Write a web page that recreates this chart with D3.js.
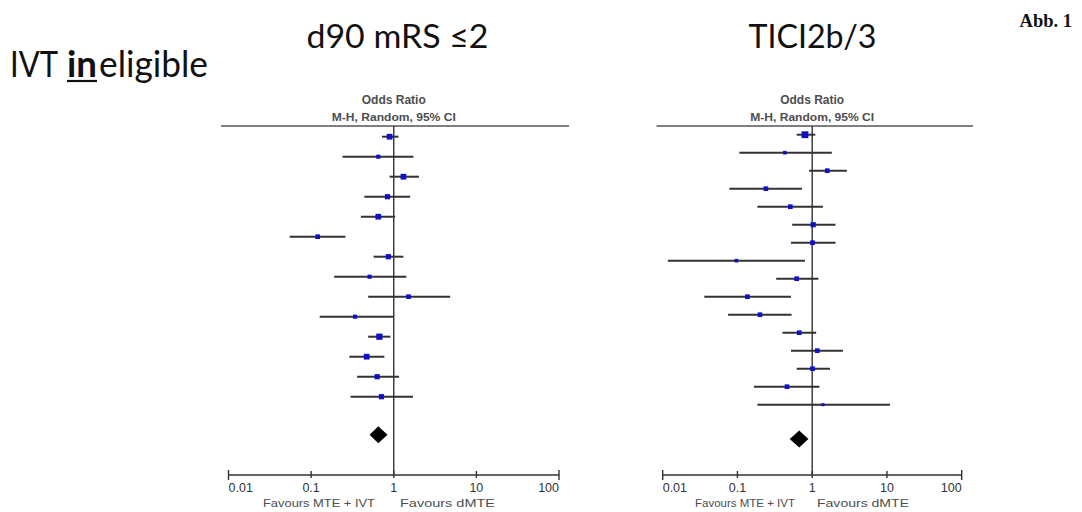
<!DOCTYPE html>
<html><head><meta charset="utf-8">
<script src="https://cdn.jsdelivr.net/npm/d3@7"></script>
<style>html,body{margin:0;padding:0;background:#fff;}svg{display:block;}</style>
</head><body>
<svg id="c" width="1082" height="512"></svg>
<script>
// ---- data ----
const tickValues = [0.01, 0.1, 1, 10, 100];
const tickLabels = ["0.01", "0.1", "1", "10", "100"];

// d90 mRS <=2
const mrsOR    = [0.89, 0.65, 1.31, 0.84, 0.65, 0.12, 0.86, 0.51, 1.51, 0.34, 0.67, 0.47, 0.63, 0.71];
const mrsLow   = [0.72, 0.24, 0.89, 0.44, 0.40, 0.055, 0.57, 0.19, 0.49, 0.127, 0.49, 0.29, 0.36, 0.30];
const mrsHigh  = [1.14, 1.73, 2.02, 1.58, 1.04, 0.26, 1.31, 1.42, 4.82, 0.98, 0.91, 0.77, 1.16, 1.71];
const mrsWeight= [5, 3.5, 5, 4.5, 5, 4, 4.5, 3.5, 4, 3.5, 5.5, 5, 4.5, 4.5];
const mrsPooled= [0.65, 0.51, 0.84];

// TICI 2b/3
const ticiOR    = [0.80, 0.43, 1.59, 0.24, 0.51, 1.03, 1.01, 0.097, 0.62, 0.136, 0.20, 0.67, 1.17, 1.01, 0.46, 1.39];
const ticiLow   = [0.62, 0.106, 0.91, 0.078, 0.185, 0.54, 0.52, 0.0117, 0.33, 0.036, 0.075, 0.40, 0.52, 0.62, 0.166, 0.185];
const ticiHigh  = [1.10, 1.83, 2.91, 0.73, 1.39, 2.05, 2.05, 0.80, 1.21, 0.52, 0.53, 1.13, 2.58, 1.73, 1.25, 11.0];
const ticiWeight= [6, 3, 4, 4, 4, 4.5, 4, 3, 4, 4, 4, 4, 4, 4, 4, 2.5];
const ticiPooled= [0.67, 0.50, 0.89];

const svg = d3.select("#c");

// row title, in three pieces so the bold "in" sits on its own
const titleParts = [
  { t: "IVT", x0: 10, x1: 58, bold: false },
  { t: "in", x0: 67, x1: 97, bold: true },
  { t: "eligible", x0: 99, x1: 208, bold: false }
];
svg.selectAll(".rt").data(titleParts).join("text")
  .attr("x", d => d.x0).attr("y", 76.5)
  .attr("font-family", "Lato, 'Open Sans', sans-serif").attr("font-size", 37)
  .attr("font-weight", d => d.bold ? "bold" : "normal")
  .attr("textLength", d => d.x1 - d.x0).attr("lengthAdjust", "spacingAndGlyphs")
  .attr("fill", "#111").text(d => d.t);
svg.append("line").attr("x1", 67).attr("x2", 97).attr("y1", 81).attr("y2", 81)
  .attr("stroke", "#111").attr("stroke-width", 2.2);

svg.append("text").attr("x", 1072).attr("y", 26.5).attr("text-anchor", "end")
  .attr("font-family", "'Liberation Serif', 'Times New Roman', serif")
  .attr("font-weight", "bold").attr("font-size", 18.5).attr("fill", "#111").text("Abb. 1");

function panel(cfg) {
  const x = d3.scaleLog().domain([0.01, 100]).range(cfg.xr);
  const n = cfg.or.length;
  const y = d3.scaleLinear().domain([0, n - 1]).range(cfg.yr);
  const g = svg.append("g");
  const sz = d3.scaleLinear().domain([3, 6]).range([3.6, 6.8]);

  g.append("text").attr("x", cfg.titleX).attr("y", 47.5).attr("text-anchor", "middle")
    .attr("font-family", "Lato, 'Open Sans', sans-serif").attr("font-size", 33)
    .attr("textLength", cfg.titleLen).attr("lengthAdjust", "spacingAndGlyphs")
    .attr("fill", "#111").text(cfg.title);

  const hdr = g.append("g").attr("font-family", "'Liberation Sans', Arial, sans-serif")
    .attr("font-weight", "bold").attr("fill", "#4d4d4d").attr("text-anchor", "middle");
  hdr.append("text").attr("x", x(1)).attr("y", cfg.hdrY).attr("font-size", 12).text("Odds Ratio");
  hdr.append("text").attr("x", x(1)).attr("y", cfg.hdrY + 17).attr("font-size", 11.5)
    .attr("textLength", cfg.subLen).attr("lengthAdjust", "spacingAndGlyphs").text("M-H, Random, 95% CI");

  g.append("line").attr("x1", cfg.hl[0]).attr("x2", cfg.hl[1]).attr("y1", 126).attr("y2", 126)
    .attr("stroke", "#555").attr("stroke-width", 1.6);

  // reference line at OR = 1
  g.append("line").attr("x1", x(1)).attr("x2", x(1)).attr("y1", 126).attr("y2", 475)
    .attr("stroke", "#333").attr("stroke-width", 1.4);

  // CIs
  g.selectAll(".ci").data(cfg.or).join("line")
    .attr("x1", (d, i) => x(cfg.lo[i])).attr("x2", (d, i) => x(cfg.hi[i]))
    .attr("y1", (d, i) => y(i)).attr("y2", (d, i) => y(i))
    .attr("stroke", "#333").attr("stroke-width", 2);

  g.selectAll(".pt").data(cfg.or).join("rect")
    .attr("x", (d, i) => x(d) - sz(cfg.w[i]) / 2).attr("y", (d, i) => y(i) - sz(cfg.w[i]) / 2)
    .attr("width", (d, i) => sz(cfg.w[i])).attr("height", (d, i) => sz(cfg.w[i]))
    .attr("fill", "#1010c8");

  // pooled diamond
  const yd = y(n + 0.9);
  const [pe, pl, ph] = cfg.pooled;
  g.append("path")
    .attr("d", `M${x(pl)},${yd} L${x(pe)},${yd - 8.5} L${x(ph)},${yd} L${x(pe)},${yd + 8.5} Z`)
    .attr("fill", "#000");

  // axis
  const ax = g.append("g").attr("transform", "translate(0,475)");
  ax.append("line").attr("x1", x(0.01)).attr("x2", x(100)).attr("stroke", "#333").attr("stroke-width", 1.4);
  ax.selectAll(".tk").data(tickValues).join("line")
    .attr("x1", d => x(d)).attr("x2", d => x(d))
    .attr("y1", (d, i) => (i === 0 || i === tickValues.length - 1) ? -5 : -4)
    .attr("y2", (d, i) => (i === 0 || i === tickValues.length - 1) ? 5 : 3)
    .attr("stroke", "#333").attr("stroke-width", 1.4);
  ax.selectAll(".tl").data(tickValues).join("text")
    .attr("x", d => x(d)).attr("y", 16.5)
    .attr("text-anchor", (d, i) => i === 0 ? "start" : (i === tickValues.length - 1 ? "end" : "middle"))
    .attr("font-family", "'Liberation Sans', Arial, sans-serif").attr("font-size", 12.5)
    .attr("fill", "#333").text((d, i) => tickLabels[i]);

  const fav = g.append("g").attr("font-family", "'Liberation Sans', Arial, sans-serif")
    .attr("font-size", 11.5).attr("fill", "#4d4d4d");
  fav.append("text").attr("x", cfg.favL[1]).attr("y", 507).attr("text-anchor", "end")
    .attr("textLength", cfg.favL[1] - cfg.favL[0]).attr("lengthAdjust", "spacingAndGlyphs")
    .text("Favours MTE + IVT");
  fav.append("text").attr("x", cfg.favR[0]).attr("y", 507).attr("text-anchor", "start")
    .attr("textLength", cfg.favR[1] - cfg.favR[0]).attr("lengthAdjust", "spacingAndGlyphs")
    .text("Favours dMTE");
}

panel({
  title: "d90 mRS \u22642", titleX: 397.5, titleLen: 182,
  xr: [228.5, 559], yr: [136.7, 396.7], hl: [221, 569], hdrY: 103.5, subLen: 124,
  or: mrsOR, lo: mrsLow, hi: mrsHigh, w: mrsWeight, pooled: mrsPooled,
  favL: [263, 375], favR: [400, 495]
});
panel({
  title: "TICI2b/3", titleX: 812.5, titleLen: 128,
  xr: [662.7, 961.7], yr: [134.7, 404.7], hl: [656.5, 973], hdrY: 104, subLen: 124,
  or: ticiOR, lo: ticiLow, hi: ticiHigh, w: ticiWeight, pooled: ticiPooled,
  favL: [695, 795], favR: [817, 909]
});
</script>
</body></html>
